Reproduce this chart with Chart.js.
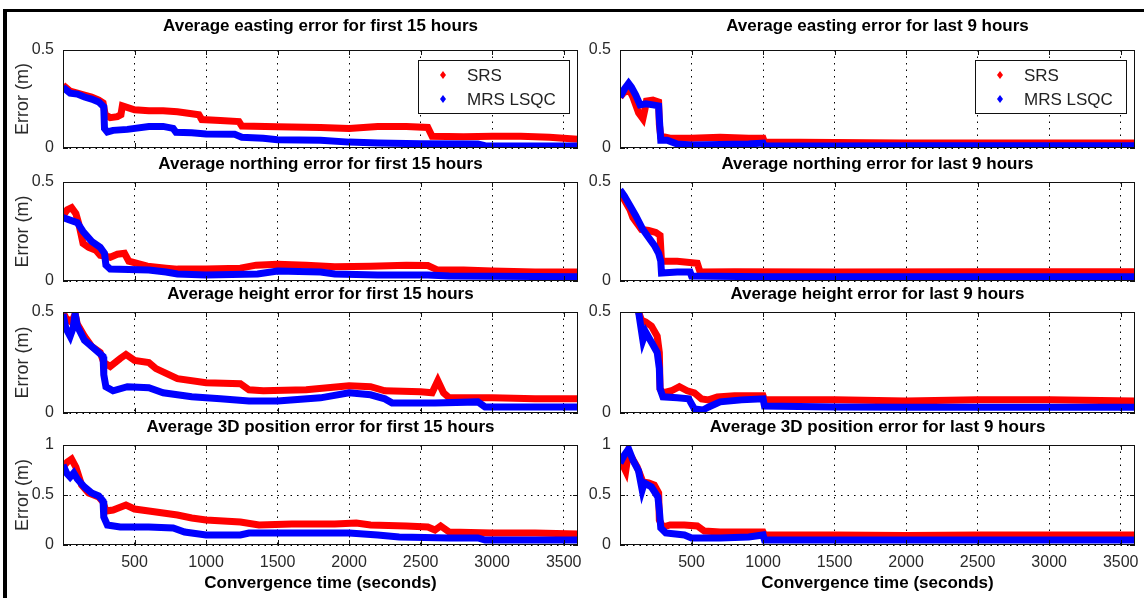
<!DOCTYPE html>
<html><head><meta charset="utf-8">
<script src="https://cdn.jsdelivr.net/npm/chart.js@4.4.1/dist/chart.umd.min.js"></script>
<style>
html,body{margin:0;padding:0;background:#fff;width:1144px;height:598px;overflow:hidden;position:relative;}
#frame{position:absolute;left:3px;top:9px;width:1200px;height:700px;border-top:3px solid #000;border-left:4px solid #000;box-sizing:border-box;}
canvas{position:absolute;}
</style></head><body>
<div id="frame"></div>
<script>
// ---------------- DATA ----------------
const seriesLabels = ['SRS', 'MRS LSQC'];
const xTickValues = [500, 1000, 1500, 2000, 2500, 3000, 3500];
const yTicksHalf = [0, 0.5];
const yTicksOne = [0, 0.5, 1];
const panelTitles = [
  'Average easting error for first 15 hours', 'Average easting error for last 9 hours',
  'Average northing error for first 15 hours', 'Average northing error for last 9 hours',
  'Average height error for first 15 hours', 'Average height error for last 9 hours',
  'Average 3D position error for first 15 hours', 'Average 3D position error for last 9 hours'
];
const yAxisTitle = 'Error (m)';
const xAxisTitle = 'Convergence time (seconds)';

// [time (s), error (m)]
const eastFirstSRS = [[0,0.32],[50,0.29],[100,0.28],[150,0.27],[200,0.26],[250,0.245],[280,0.23],[295,0.17],[330,0.155],[380,0.16],[405,0.17],[415,0.215],[500,0.195],[600,0.19],[700,0.19],[800,0.185],[900,0.175],[950,0.17],[970,0.145],[1100,0.14],[1230,0.135],[1250,0.112],[1500,0.108],[1800,0.105],[2000,0.1],[2200,0.11],[2400,0.11],[2550,0.105],[2580,0.06],[2800,0.058],[3000,0.06],[3200,0.06],[3400,0.055],[3600,0.045]];
const eastFirstMRS = [[0,0.31],[50,0.28],[100,0.275],[150,0.26],[200,0.25],[250,0.235],[285,0.21],[290,0.1],[310,0.082],[350,0.09],[450,0.095],[600,0.11],[700,0.11],[770,0.1],[790,0.08],[900,0.078],[1000,0.072],[1200,0.07],[1250,0.055],[1400,0.05],[1500,0.042],[1800,0.04],[2000,0.03],[2200,0.025],[2500,0.022],[2900,0.02],[2950,0.012],[3300,0.01],[3600,0.01]];
const eastLastSRS = [[0,0.26],[30,0.285],[70,0.29],[90,0.26],[130,0.18],[160,0.15],[175,0.2],[185,0.24],[230,0.245],[270,0.235],[275,0.12],[285,0.06],[350,0.05],[500,0.05],[700,0.055],[900,0.05],[1000,0.05],[1010,0.03],[1500,0.028],[2000,0.025],[2500,0.025],[3000,0.025],[3600,0.025]];
const eastLastMRS = [[0,0.26],[30,0.3],[60,0.33],[80,0.31],[110,0.27],[140,0.22],[180,0.225],[230,0.22],[270,0.215],[275,0.15],[285,0.04],[330,0.04],[400,0.02],[500,0.015],[700,0.018],[900,0.02],[1000,0.025],[1010,0.01],[1500,0.01],[2000,0.012],[3000,0.012],[3600,0.012]];
const northFirstSRS = [[0,0.33],[30,0.36],[60,0.37],[90,0.34],[110,0.29],[140,0.19],[180,0.17],[230,0.155],[260,0.13],[330,0.12],[380,0.135],[430,0.14],[460,0.1],[590,0.075],[720,0.065],[800,0.06],[1000,0.06],[1240,0.065],[1350,0.08],[1500,0.085],[1700,0.08],[1900,0.072],[2150,0.075],[2400,0.08],[2550,0.078],[2620,0.055],[2800,0.055],[3000,0.05],[3300,0.045],[3600,0.045]];
const northFirstMRS = [[0,0.32],[40,0.31],[100,0.295],[140,0.25],[200,0.2],[260,0.17],[290,0.14],[300,0.08],[330,0.06],[460,0.058],[600,0.055],[720,0.045],[800,0.035],[1000,0.03],[1360,0.035],[1500,0.05],[1800,0.045],[1900,0.035],[2200,0.03],[2550,0.03],[2700,0.025],[3600,0.022]];
const northLastSRS = [[0,0.44],[30,0.41],[70,0.36],[90,0.32],[130,0.28],[150,0.26],[200,0.255],[250,0.245],[280,0.23],[290,0.1],[400,0.1],[540,0.09],[560,0.045],[800,0.047],[1500,0.045],[2500,0.047],[3600,0.047]];
const northLastMRS = [[0,0.46],[30,0.43],[70,0.38],[110,0.33],[160,0.26],[200,0.22],[240,0.18],[270,0.14],[285,0.1],[290,0.04],[400,0.045],[490,0.045],[500,0.025],[1000,0.022],[2000,0.022],[3600,0.022]];
const heightFirstSRS = [[0,0.5],[20,0.47],[60,0.45],[85,0.49],[100,0.44],[150,0.38],[200,0.33],[260,0.3],[285,0.25],[330,0.23],[400,0.27],[440,0.29],[500,0.26],[600,0.25],[650,0.22],[800,0.17],[1000,0.15],[1240,0.145],[1300,0.115],[1400,0.11],[1700,0.115],[2000,0.135],[2150,0.13],[2250,0.11],[2500,0.105],[2580,0.1],[2620,0.16],[2660,0.1],[2700,0.075],[3000,0.075],[3300,0.07],[3600,0.07]];
const heightFirstMRS = [[0,0.49],[20,0.42],[50,0.38],[70,0.42],[85,0.49],[100,0.43],[150,0.36],[200,0.33],[280,0.28],[285,0.19],[300,0.13],[350,0.11],[450,0.13],[600,0.125],[700,0.1],[900,0.08],[1100,0.07],[1300,0.06],[1500,0.06],[1800,0.075],[2000,0.1],[2150,0.09],[2250,0.07],[2300,0.05],[2600,0.05],[2900,0.055],[2950,0.03],[3300,0.03],[3600,0.03]];
const heightLastSRS = [[130,0.5],[150,0.46],[180,0.45],[220,0.43],[260,0.38],[275,0.3],[280,0.12],[300,0.1],[360,0.11],[415,0.13],[470,0.11],[520,0.1],[570,0.07],[620,0.065],[680,0.08],[800,0.085],[1000,0.085],[1010,0.065],[1500,0.065],[2000,0.06],[2500,0.065],[3000,0.065],[3600,0.06]];
const heightLastMRS = [[130,0.5],[145,0.43],[160,0.36],[180,0.4],[220,0.35],[260,0.3],[275,0.22],[280,0.12],[300,0.08],[400,0.075],[480,0.07],[520,0.02],[580,0.015],[620,0.03],[700,0.055],[850,0.065],[1000,0.07],[1010,0.035],[1500,0.03],[2000,0.028],[3000,0.028],[3600,0.028]];
const posFirstSRS = [[0,0.78],[30,0.83],[60,0.86],[90,0.78],[130,0.6],[180,0.52],[250,0.48],[280,0.43],[300,0.34],[350,0.35],[440,0.4],[500,0.36],[600,0.34],[800,0.3],[900,0.27],[1000,0.25],[1240,0.23],[1370,0.2],[1600,0.21],[1900,0.21],[2050,0.22],[2150,0.2],[2400,0.19],[2550,0.18],[2600,0.15],[2640,0.19],[2700,0.13],[3000,0.12],[3300,0.12],[3600,0.11]];
const posFirstMRS = [[0,0.8],[25,0.72],[50,0.68],[75,0.72],[100,0.66],[150,0.58],[200,0.52],[250,0.49],[280,0.44],[285,0.28],[310,0.2],[400,0.18],[600,0.18],[770,0.17],[850,0.13],[1000,0.1],[1240,0.1],[1300,0.12],[1600,0.12],[2000,0.12],[2200,0.1],[2350,0.08],[2700,0.07],[2900,0.07],[2950,0.05],[3300,0.05],[3600,0.05]];
const posLastSRS = [[0,0.82],[20,0.8],[40,0.74],[60,0.93],[80,0.88],[120,0.78],[160,0.63],[200,0.62],[240,0.6],[270,0.52],[275,0.25],[300,0.18],[350,0.2],[450,0.2],[540,0.19],[590,0.14],[700,0.13],[900,0.13],[1000,0.13],[1010,0.1],[1500,0.1],[2000,0.095],[2500,0.1],[3000,0.1],[3600,0.1]];
const posLastMRS = [[0,0.82],[30,0.9],[60,0.96],[90,0.85],[130,0.74],[155,0.55],[170,0.62],[220,0.58],[265,0.48],[275,0.35],[285,0.17],[320,0.12],[450,0.1],[500,0.07],[700,0.07],[900,0.08],[1000,0.1],[1010,0.05],[1500,0.05],[2500,0.05],[3600,0.05]];

// ---------------- LAYOUT / STYLE ----------------
const FONT = "'Liberation Sans',Arial,sans-serif";
const panels = [
  {s:eastFirstSRS, m:eastFirstMRS, ymax:0.5, yt:yTicksHalf, legend:true},
  {s:eastLastSRS, m:eastLastMRS, ymax:0.5, yt:yTicksHalf, legend:true},
  {s:northFirstSRS, m:northFirstMRS, ymax:0.5, yt:yTicksHalf},
  {s:northLastSRS, m:northLastMRS, ymax:0.5, yt:yTicksHalf},
  {s:heightFirstSRS, m:heightFirstMRS, ymax:0.5, yt:yTicksHalf},
  {s:heightLastSRS, m:heightLastMRS, ymax:0.5, yt:yTicksHalf},
  {s:posFirstSRS, m:posFirstMRS, ymax:1, yt:yTicksOne},
  {s:posLastSRS, m:posLastMRS, ymax:1, yt:yTicksOne}
];
const areaTop = [50, 182, 312, 445];
const areaBottom = [148, 281, 413, 545];
const cols = [{left:0, width:600, yw:63, padR:22, legR:9}, {left:575, width:569, yw:45, padR:9, legR:9}];

const framePlugin = {
  id: 'frameBox',
  afterDatasetsDraw(chart) {
    const {ctx, chartArea: a, scales} = chart;
    ctx.save();
    ctx.strokeStyle = '#111'; ctx.lineWidth = 1;
    ctx.strokeRect(Math.round(a.left) + 0.5, Math.round(a.top) + 0.5, Math.round(a.right - a.left) - 1, Math.round(a.bottom - a.top) - 1);
    ctx.beginPath();
    scales.x.ticks.forEach(t => {
      const px = Math.round(scales.x.getPixelForValue(t.value)) + 0.5;
      ctx.moveTo(px, a.bottom); ctx.lineTo(px, a.bottom - 5);
      ctx.moveTo(px, a.top); ctx.lineTo(px, a.top + 5);
    });
    scales.y.ticks.forEach(t => {
      const py = Math.round(scales.y.getPixelForValue(t.value)) + 0.5;
      ctx.moveTo(a.left, py); ctx.lineTo(a.left + 5, py);
      ctx.moveTo(a.right, py); ctx.lineTo(a.right - 5, py);
    });
    ctx.stroke();
    ctx.restore();
  }
};
const legendPlugin = {
  id: 'boxLegend',
  afterDraw(chart, args, opts) {
    if (!opts.display) return;
    const {ctx, chartArea: a} = chart;
    const w = 151, h = 53;
    const x = Math.round(a.right - opts.right - w), y = Math.round(a.top + 10);
    ctx.save();
    ctx.fillStyle = '#fff'; ctx.fillRect(x, y, w, h);
    ctx.strokeStyle = '#111'; ctx.lineWidth = 1; ctx.strokeRect(x + 0.5, y + 0.5, w, h);
    ctx.font = '17px ' + FONT; ctx.textBaseline = 'middle'; ctx.textAlign = 'left';
    chart.data.datasets.forEach((ds, i) => {
      const cy = y + 15 + i * 24, cx = x + 25;
      ctx.fillStyle = ds.borderColor;
      ctx.beginPath(); ctx.moveTo(cx, cy - 4); ctx.lineTo(cx + 3, cy); ctx.lineTo(cx, cy + 4); ctx.lineTo(cx - 3, cy); ctx.closePath(); ctx.fill();
      ctx.fillStyle = '#222';
      ctx.fillText(ds.label, x + 49, cy + 1);
    });
    ctx.restore();
  }
};

panels.forEach((p, idx) => {
  const row = Math.floor(idx / 2), colI = idx % 2, col = cols[colI];
  const last = row === 3;
  const top = areaTop[row] - 38;
  const xh = last ? 53 : 4;
  const height = (areaBottom[row] - areaTop[row]) + 38 + xh;
  const cv = document.createElement('canvas');
  cv.width = col.width; cv.height = height;
  cv.style.left = col.left + 'px'; cv.style.top = top + 'px';
  cv.style.width = col.width + 'px'; cv.style.height = height + 'px';
  document.body.appendChild(cv);
  new Chart(cv, {
    type: 'line',
    data: {
      datasets: [
        {label: seriesLabels[0], data: p.s.map(([x, y]) => ({x, y})), borderColor: '#ff0000', backgroundColor: '#ff0000', borderWidth: 7, pointRadius: 0, tension: 0, fill: false, order: 2},
        {label: seriesLabels[1], data: p.m.map(([x, y]) => ({x, y})), borderColor: '#0000ff', backgroundColor: '#0000ff', borderWidth: 7, pointRadius: 0, tension: 0, fill: false, order: 1}
      ]
    },
    options: {
      responsive: false, animation: false, events: [],
      layout: {padding: {left: 0, right: col.padR, top: 0, bottom: 0}},
      plugins: {
        legend: {display: false}, tooltip: {enabled: false},
        title: {display: true, text: panelTitles[idx], fullSize: false, color: '#000',
          font: {family: FONT, size: 17, weight: 'bold', lineHeight: 1.2},
          padding: row === 0 ? {top: 4.3, bottom: 13.3} : {top: 9.8, bottom: 7.8}},
        boxLegend: {display: !!p.legend, right: col.legR}
      },
      scales: {
        x: {
          type: 'linear', min: 0, max: 3600,
          afterBuildTicks: s => { s.ticks = xTickValues.map(v => ({value: v})); },
          afterFit: s => { s.height = xh; s.paddingLeft = 0; s.paddingRight = 0; },
          ticks: {display: last, color: '#2a2a2a', padding: 8, maxRotation: 0, autoSkip: false, font: {family: FONT, size: 16}, callback: v => String(v)},
          grid: {color: '#000', lineWidth: 1, drawTicks: false},
          border: {display: false, dash: [1.5, 5]},
          title: {display: last, text: xAxisTitle, color: '#000', font: {family: FONT, size: 17, weight: 'bold', lineHeight: 1.2}, padding: {top: 0, bottom: 4}}
        },
        y: {
          type: 'linear', min: 0, max: p.ymax,
          afterBuildTicks: s => { s.ticks = p.yt.map(v => ({value: v})); },
          afterFit: s => { s.width = col.yw; s.paddingTop = 0; s.paddingBottom = 0; },
          ticks: {color: '#2a2a2a', padding: 9, font: {family: FONT, size: 16}, callback: v => String(v)},
          grid: {color: '#000', lineWidth: 1, drawTicks: false},
          border: {display: false, dash: [1.5, 5]},
          title: {display: colI === 0, text: yAxisTitle, color: '#2a2a2a', font: {family: FONT, size: 18, lineHeight: 1.2}, padding: {top: 12.5, bottom: 0}}
        }
      }
    },
    plugins: [framePlugin, legendPlugin]
  });
});
</script>
</body></html>
